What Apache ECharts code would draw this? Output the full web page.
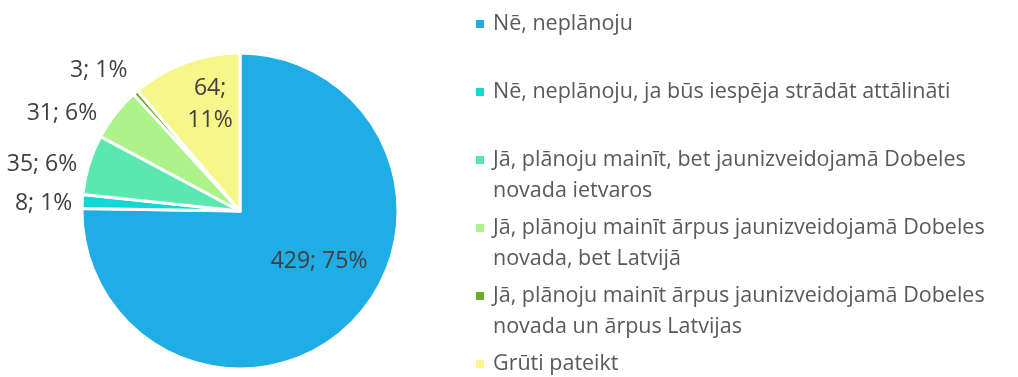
<!DOCTYPE html>
<html>
<head>
<meta charset="utf-8">
<script src="https://cdn.jsdelivr.net/npm/echarts@6/dist/echarts.min.js"></script>
<style>
  html, body { margin: 0; padding: 0; background: #ffffff; }
  #chart { width: 1018px; height: 377px; }
</style>
</head>
<body>
<div id="chart"></div>
<script>
// Survey answers (Latvian) and respondent counts
const categories = [
  'Nē, neplānoju',
  'Nē, neplānoju, ja būs iespēja strādāt attālināti',
  'Jā, plānoju mainīt, bet jaunizveidojamā Dobeles\nnovada ietvaros',
  'Jā, plānoju mainīt ārpus jaunizveidojamā Dobeles\nnovada, bet Latvijā',
  'Jā, plānoju mainīt ārpus jaunizveidojamā Dobeles\nnovada un ārpus Latvijas',
  'Grūti pateikt'
];
const counts = [429, 8, 35, 31, 3, 64];
const colors = ['#1EADE4', '#12D8D4', '#5AE8B0', '#ACF389', '#6AAE22', '#F7F68B'];

const FONT = '"Open Sans", "Noto Sans", sans-serif';
const pieCenter = [240, 211];
const pieRadius = 158;

// label placement per slice: inside labels moved to a radius (with a small turn, degrees),
// outside labels placed through the label line lengths
const labelSpec = [
  { inside: true, radius: 94, turn: -12.7 },
  { len: 0, len2: 10 },
  { len: 7, len2: 5 },
  { len: 4, len2: 15 },
  { len: 32, len2: -13 },
  { inside: true, radius: 111, turn: 4.6, twoLine: true }
];

const chart = echarts.init(document.getElementById('chart'), null, { renderer: 'canvas' });

const pieData = counts.map((v, i) => {
  const s = labelSpec[i];
  return {
    name: categories[i],
    value: v,
    itemStyle: { color: colors[i] },
    label: {
      position: s.inside ? 'inside' : 'outside',
      formatter: s.twoLine ? '{c};\n{d}%' : '{c}; {d}%'
    },
    labelLine: { show: false, length: s.len || 0, length2: s.len2 || 0 }
  };
});

// one legend block per answer, so every entry sits on a fixed row pitch
const legends = categories.map((name, i) => {
  const twoLine = name.indexOf('\n') >= 0;
  const markerY = 24 + 68 * i;
  return {
    data: [name],
    orient: 'vertical',
    left: 474,
    top: twoLine ? markerY - 46.5 : markerY - 15.5,
    icon: 'path://M0,0H10V10H0Z',
    itemWidth: 16,
    itemHeight: 10,
    itemGap: 0,
    padding: 0,
    selectedMode: false,
    // a leading blank line keeps the marker level with the first text line
    formatter: twoLine ? function (n) { return '\n' + n; } : '{name}',
    textStyle: {
      color: '#595959',
      fontSize: 21.5,
      fontFamily: FONT,
      lineHeight: 31
    }
  };
});

chart.setOption({
  animation: false,
  backgroundColor: '#ffffff',
  legend: legends,
  series: [{
    type: 'pie',
    center: pieCenter,
    radius: pieRadius,
    startAngle: 90,
    clockwise: true,
    percentPrecision: 0,
    avoidLabelOverlap: false,
    itemStyle: { borderColor: '#ffffff', borderWidth: 3 },
    label: {
      show: true,
      color: '#404040',
      fontSize: 23,
      fontFamily: FONT,
      lineHeight: 32,
      distanceToLabelLine: 0
    },
    labelLayout: function (p) {
      const s = labelSpec[p.dataIndex];
      if (!s.inside) return { dy: 2 };
      const r = p.labelRect;
      const lx = r.x + r.width / 2;
      const ly = r.y + r.height / 2;
      const a = Math.atan2(ly - pieCenter[1], lx - pieCenter[0]) + s.turn * Math.PI / 180;
      return {
        dx: pieCenter[0] + s.radius * Math.cos(a) - lx,
        dy: pieCenter[1] + s.radius * Math.sin(a) - ly
      };
    },
    data: pieData
  }]
});
</script>
</body>
</html>
